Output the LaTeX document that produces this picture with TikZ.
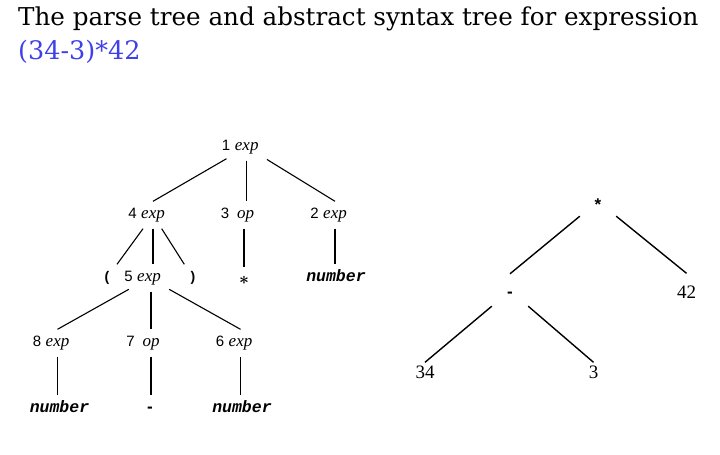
\documentclass[tikz,border=0pt]{standalone}
\usepackage{amsmath}
\usepackage{fontspec}
\newfontfamily\titlefont{DejaVu Serif}
\newfontfamily\timesfont{Liberation Serif}
\newfontfamily\arialfont{Liberation Sans}
\newfontfamily\courfont{Liberation Mono}
\definecolor{exprblue}{RGB}{64,64,235}

\begin{document}
\begin{tikzpicture}[x=1pt,y=-1pt,
  sym/.style={inner sep=0pt,minimum width=40pt,minimum height=27pt,text height=10pt,text depth=4pt},
  nt/.style={sym,font=\fontsize{17}{17}\selectfont\timesfont\itshape},
  tok/.style={sym,font=\fontsize{16.5}{16}\selectfont\courfont\bfseries\itshape},
  chr/.style={sym,font=\fontsize{14}{14}\selectfont\arialfont\bfseries},
  num/.style={inner sep=0pt,text height=10pt,text depth=4pt,font=\fontsize{15}{15}\selectfont\arialfont},
  astop/.style={inner sep=0pt,minimum width=36pt,minimum height=22pt,font=\fontsize{17}{17}\selectfont\arialfont\bfseries},
  leaf/.style={inner sep=0pt,minimum height=19pt,text height=13pt,text depth=0pt,font=\fontsize{19}{19}\selectfont\timesfont},
  edge/.style={line width=1.1pt},
  astedge/.style={line width=1.4pt}]
\def\ya{147};
\def\yb{215};
\def\yc{278};
\def\yd{343};
\def\ye{409};

\useasboundingbox (0,0) rectangle (720,455);

\node[anchor=base west,inner sep=0pt,font=\fontsize{24.6}{28}\selectfont\titlefont] (title) at (18,25) {The parse tree and abstract syntax tree for expression};
\node[anchor=base west,inner sep=0pt,font=\fontsize{25.5}{28}\selectfont\titlefont,text=exprblue] (expr) at (18,59) {(34-3)*42};

% parse tree
\node[nt,label={[num,label distance=-4pt]left:1}] (e1) at (246.7,\ya) {exp};

\node[nt,label={[num,label distance=-4pt]left:4}] (e4) at (153,\yb) {exp};
\draw[edge] (e1) -- (e4.north);
\node[nt,label={[num,label distance=-4pt]left:3}] (o3) at (245.5,\yb) {op};
\draw[edge] (e1.south) -- (e1.south |- o3.north);
\node[nt,label={[num,label distance=-4pt]left:2}] (e2) at (335,\yb) {exp};
\draw[edge] (e1) -- (e2.north);

\node[chr] (lp) at (107,\yc) {(};
\draw[edge] (e4) -- (lp);
\node[nt,label={[num,label distance=-4pt]left:5}] (e5) at (149,\yc) {exp};
\draw[edge] (e4.south) -- (e4.south |- e5.north);
\node[chr] (rp) at (193,\yc) {)};
\draw[edge] (e4) -- (rp);
\node[sym,font=\fontsize{16}{16}\selectfont] (mul) at (244,281) {$\boldsymbol{\ast}$};
\draw[edge] (mul.north |- o3.south) -- (mul.north);
\node[tok] (n2) at (336,\yc) {number};
\draw[edge] (e2.south) -- (e2.south |- n2.north);

\node[nt,label={[num,label distance=-4pt]left:8}] (e8) at (57.5,\yd) {exp};
\draw[edge] (e5) -- (e8.north);
\node[nt,label={[num,label distance=-4pt]left:7}] (o7) at (151,\yd) {op};
\draw[edge] (o7.north |- e5.south) -- (o7.north);
\node[nt,label={[num,label distance=-4pt]left:6}] (e6) at (240.5,\yd) {exp};
\draw[edge] (e5) -- (e6.north);

\node[tok] (n8) at (59.5,\ye) {number};
\draw[edge] (e8.south) -- (e8.south |- n8.north);
\node[chr,font=\fontsize{17}{17}\selectfont\arialfont\bfseries] (sub) at (150,\ye) {-};
\draw[edge] (o7.south) -- (o7.south |- sub.north);
\node[tok] (n6) at (242,\ye) {number};
\draw[edge] (e6.south) -- (e6.south |- n6.north);

% abstract syntax tree
\node[astop] (star) at (598,205) {*};
\node[astop,minimum height=32pt,text height=0pt,text depth=0pt] (minus) at (510,290) {\raisebox{-7.5pt}{-}};
\draw[astedge] (star.south west) -- (minus.north);
\node[leaf,minimum height=37pt] (n42) at (686.5,292) {42};
\draw[astedge] (star.south east) -- (n42.north);
\node[leaf] (n34) at (425,372) {34};
\draw[astedge] (minus.south west) -- (n34.north);
\node[leaf] (n3) at (593.5,372) {3};
\draw[astedge] (minus.south east) -- (n3.north);
\end{tikzpicture}
\end{document}
